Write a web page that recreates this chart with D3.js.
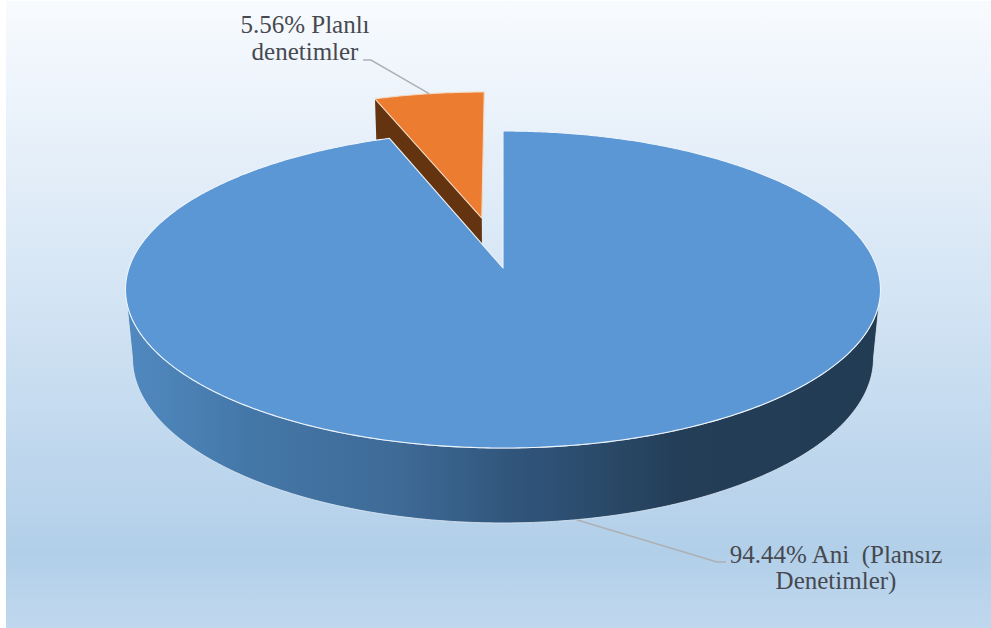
<!DOCTYPE html>
<html>
<head>
<meta charset="utf-8">
<script src="https://cdn.jsdelivr.net/npm/d3@7"></script>
<style>
  html, body { margin: 0; padding: 0; background: #fff; }
  svg { display: block; }
  text { font-family: "Liberation Serif", serif; font-size: 25px; fill: #464950; white-space: pre; }
</style>
</head>
<body>
<svg id="chart" width="991" height="628"></svg>
<script>
// Share of inspections by type
const categories = ["Ani (Plansız Denetimler)", "Planlı denetimler"];
const shares = [94.44, 5.56];
const labelLines = [
  ["94.44% Ani  (Plansız", "Denetimler)"],
  ["5.56% Planlı", "denetimler"]
];
const sliceColors = ["#5b97d5", "#ec7c30"];
const cutFaceColor = "#63340f";
const sideStops = [
  [0, "#5089bf"], [0.16, "#4477a8"], [0.36, "#3e6a96"],
  [0.52, "#30547a"], [0.63, "#2a4a69"], [0.73, "#243e58"], [1, "#223c54"]
];
const backgroundStops = [
  [0, "#f8fbfe"], [0.16, "#ecf3fb"], [0.48, "#d3e4f4"],
  [0.88, "#b2cfe9"], [1, "#c0d8ee"]
];

const svg = d3.select("#chart");
const defs = svg.append("defs");

function gradient(id, stops, x1, y1, x2, y2) {
  const g = defs.append("linearGradient").attr("id", id)
    .attr("gradientUnits", "userSpaceOnUse")
    .attr("x1", x1).attr("y1", y1).attr("x2", x2).attr("y2", y2);
  stops.forEach(([o, c]) => g.append("stop").attr("offset", o).attr("stop-color", c));
}

// Perspective projection of a tilted disc: u runs right, v runs towards the viewer, h runs down the wall.
const view = { cx: 503, cy: 268, a: 374, b: 155.6, tilt: 0.1356, shrink: 0.0185, wall: 69.5 };
function project(u, v, h) {
  const w = 1 - view.tilt * v + view.shrink * h;
  return [view.cx + view.a * u / w, view.cy + (view.b * v + view.wall * h) / w];
}

const pie = d3.pie().sort(null).startAngle(0).endAngle(2 * Math.PI);
const arcs = pie(shares);
const explode = [0, 0.341];

// Slice geometry in disc coordinates, angle measured clockwise from twelve o'clock.
function offset(d, i) {
  const mid = (d.startAngle + d.endAngle) / 2;
  return [explode[i] * Math.sin(mid), -explode[i] * Math.cos(mid)];
}
function rim(d, i, angle) {
  const [ox, oy] = offset(d, i);
  return [ox + Math.sin(angle), oy - Math.cos(angle)];
}
function rimAngles(a0, a1) {
  const n = Math.max(2, Math.ceil((a1 - a0) / 0.01));
  return d3.range(n + 1).map(k => a0 + (a1 - a0) * k / n);
}
const line = d3.line();

// Background panel
gradient("panelFill", backgroundStops, 0, 0, 0, 628);
svg.append("rect").attr("x", 6).attr("y", 1).attr("width", 985).attr("height", 627)
  .attr("fill", "url(#panelFill)");

// Exploded slice: cut face first, the large slice covers its lower part
const small = arcs[1];
const [sx, sy] = offset(small, 1);
const [lu, lv] = rim(small, 1, small.startAngle);
svg.append("path")
  .attr("d", line([project(sx, sy, 0), project(lu, lv, 0), project(lu, lv, 1), project(sx, sy, 1)]) + "Z")
  .attr("fill", cutFaceColor);

// Outer wall of the large slice, between the two points where the rim turns away from the viewer
const frontFrom = Math.PI / 2 + view.tilt;
const frontTo = 3 * Math.PI / 2 - view.tilt;
const upper = rimAngles(frontFrom, frontTo).map(t => project(Math.sin(t), -Math.cos(t), 0));
const lower = rimAngles(frontFrom, frontTo).reverse().map(t => project(Math.sin(t), -Math.cos(t), 1));
gradient("wallFill", sideStops, 130, 0, 880, 0);
svg.append("path")
  .attr("d", line(upper.concat(lower)) + "Z")
  .attr("fill", "url(#wallFill)")
  .attr("stroke", "#dfeaf5").attr("stroke-width", 0.8);

// Top faces
arcs.forEach((d, i) => {
  const [ox, oy] = offset(d, i);
  const pts = [[ox, oy]].concat(rimAngles(d.startAngle, d.endAngle).map(t => rim(d, i, t)));
  svg.append("path")
    .attr("d", line(pts.map(([u, v]) => project(u, v, 0))) + "Z")
    .attr("fill", sliceColors[i])
    .attr("stroke", i === 0 ? "#eef4fb" : "#f3d9c4")
    .attr("stroke-width", 1.1)
    .attr("stroke-linejoin", "round");
});

// Label text
const labelAnchors = [[836, 563], [305, 33]];
const lineGap = [25.5, 27];
labelLines.forEach((lines, i) => {
  const t = svg.append("text").attr("text-anchor", "middle");
  lines.forEach((s, k) => t.append("tspan")
    .attr("x", labelAnchors[i][0])
    .attr("y", labelAnchors[i][1] + k * lineGap[i])
    .text(s));
});

// Leader lines from the middle of each slice's rim to its label
const leaderEnds = [[[717, 562], [726, 562]], [[371, 60], [363, 60]]];
arcs.forEach((d, i) => {
  const mid = (d.startAngle + d.endAngle) / 2;
  const [u, v] = rim(d, i, mid);
  const start = project(u, v, i === 0 ? 1 : 0);
  svg.append("path")
    .attr("d", line([start].concat(leaderEnds[i])))
    .attr("fill", "none").attr("stroke", "#adb0b4").attr("stroke-width", 1.5);
});
</script>
</body>
</html>
